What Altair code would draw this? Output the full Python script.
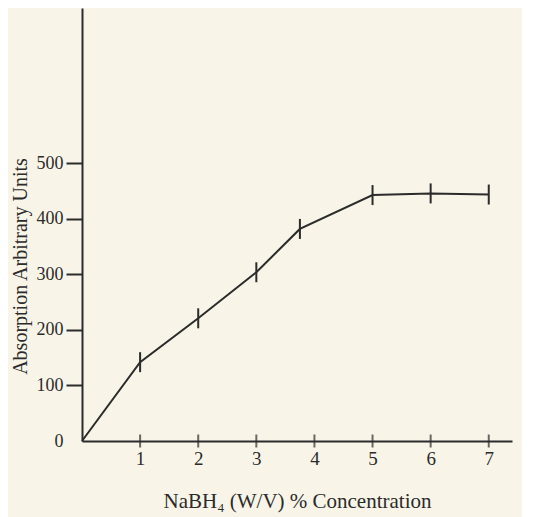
import altair as alt
import pandas as pd

conc = [0, 1, 2, 3, 3.75, 5, 6, 7]
absorb = [0, 142, 221, 304, 382, 443, 446, 444]
err = [0, 18, 18, 18, 18, 18, 18, 18]
x_ticks = [1, 2, 3, 4, 5, 6, 7]
y_ticks = [0, 100, 200, 300, 400, 500]

df = pd.DataFrame({"x": conc, "y": absorb, "err": err})
df["lo"] = df["y"] - df["err"]
df["hi"] = df["y"] + df["err"]
bars = df[df["err"] > 0]
ticks = pd.DataFrame({"t": x_ticks, "z": [0] * len(x_ticks)})

FONT = "Liberation Serif"
INK = "#2b2b2b"

xscale = alt.Scale(domain=[0, 7.4], nice=False, zero=False)
yscale = alt.Scale(domain=[0, 780], nice=False)

base = alt.Chart(df)

line = base.mark_line(color=INK, strokeWidth=2).encode(
    x=alt.X("x:Q", scale=xscale,
            axis=alt.Axis(values=x_ticks, ticks=False, grid=False, format="d",
                          title="NaBH\u2084 (W/V) % Concentration",
                          labelPadding=8, titlePadding=22,
                          domainColor=INK, domainWidth=2,
                          labelFont=FONT, labelFontSize=19, labelColor=INK,
                          titleFont=FONT, titleFontSize=21, titleColor=INK,
                          titleFontWeight="normal")),
    y=alt.Y("y:Q", scale=yscale,
            axis=alt.Axis(values=y_ticks, grid=False, tickSize=16, tickWidth=2,
                          tickColor=INK, format="d",
                          tickOpacity={"condition": {"test": "datum.value === 0", "value": 0}, "value": 1},
                          labelPadding=3, titleX=-52, titleY=258, titleAngle=270,
                          titleBaseline="bottom", titleAlign="center",
                          title="Absorption Arbitrary Units",
                          domainColor=INK, domainWidth=2,
                          labelFont=FONT, labelFontSize=18, labelColor=INK,
                          titleFont=FONT, titleFontSize=20, titleColor=INK,
                          titleFontWeight="normal")),
)

ebars = alt.Chart(bars).mark_rule(color=INK, strokeWidth=2).encode(
    x=alt.X("x:Q", scale=xscale),
    y=alt.Y("lo:Q", scale=yscale),
    y2="hi:Q",
)

xt = alt.Chart(ticks).mark_tick(color=INK, thickness=2, size=13, orient="vertical").encode(
    x=alt.X("t:Q", scale=xscale),
    y=alt.Y("z:Q", scale=yscale),
)

chart = alt.layer(line, ebars, xt).properties(
    width=430, height=433,
    autosize=alt.AutoSizeParams(type="none"),
    padding={"left": 74, "top": 0, "right": 10, "bottom": 76},
    background="#f8f5e8",
).configure_view(stroke=None)

chart.save("out.html", embed_options={"renderer": "svg", "actions": False})
